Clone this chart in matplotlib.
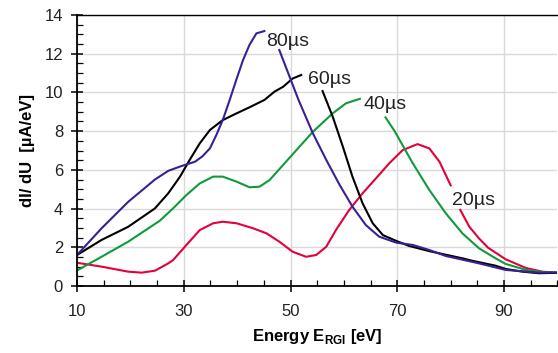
import matplotlib
matplotlib.use('Agg')
import matplotlib.pyplot as plt
import numpy as np
from matplotlib.ticker import MultipleLocator

nan = np.nan

# energy [eV] and dI/dU [uA/eV], nan = gap behind the label
e20 = [10, 14.6, 19.6, 22.1, 24.6, 27.1, 28.0, 30.5, 33.0, 35.5, 37.3, 39.9, 43.0, 45.5, 47.9, 50.4,
       52.9, 54.8, 56.7, 58.5, 61.0, 63.5, 66.0, 68.5, 71.0, 73.8, 76.0, 77.9, 80.0, nan,
       81.8, 83.5, 85.3, 87.0, 90.3, 94.1, 97.2, 100]
v20 = [1.2, 1.0, 0.74, 0.69, 0.79, 1.17, 1.34, 2.12, 2.89, 3.24, 3.32, 3.24, 2.98, 2.72, 2.29, 1.77,
       1.51, 1.6, 2.03, 2.89, 3.93, 4.79, 5.56, 6.34, 7.02, 7.33, 7.11, 6.42, 5.2, nan,
       3.93, 3.06, 2.46, 1.98, 1.38, 0.93, 0.74, 0.68]

e40 = [10, 14.6, 19.6, 25.5, 28.0, 30.5, 33.0, 35.5, 37.3, 39.9, 42.3, 44.2, 46.1, 48.6, 51.1, 54.2,
       57.9, 60.4, 63.0, nan, 67.8, 69.5, 72.9, 76.0, 79.1, 82.2, 85.3, 88.4, 90.3, 94.1, 97.2, 100]
v40 = [0.8, 1.51, 2.29, 3.37, 4.01, 4.7, 5.3, 5.65, 5.65, 5.39, 5.1, 5.13, 5.48, 6.25, 7.02, 7.97,
       8.92, 9.44, 9.67, nan, 8.71, 8.0, 6.34, 4.96, 3.75, 2.72, 1.95, 1.43, 1.14, 0.83, 0.72, 0.68]

e60 = [10, 14.6, 19.6, 24.6, 27.1, 29.3, 31.1, 33.0, 34.9, 37.3, 39.9, 42.3, 45.1, 47.0, 48.6, 50.4,
       52.0, nan, 56.0, 57.9, 59.8, 61.6, 63.5, 65.4, 67.3, 69.8, 72.2, 76.0, 82.2, 84.1, 88.4,
       90.3, 93.5, 96.5, 100]
v60 = [1.6, 2.38, 3.06, 4.01, 4.79, 5.65, 6.51, 7.37, 8.06, 8.57, 8.92, 9.23, 9.61, 10.04, 10.29, 10.72,
       10.9, nan, 10.07, 8.75, 7.2, 5.65, 4.27, 3.24, 2.63, 2.33, 2.07, 1.8, 1.43, 1.3, 1.05,
       0.88, 0.74, 0.66, 0.68]

e80 = [10, 14.6, 19.6, 24.6, 27.1, 29.6, 32.1, 33.5, 34.9, 36.1, 37.3, 38.6, 39.9, 41.1, 42.3, 43.6,
       45.1, nan, 47.9, 51.5, 54.2, 56.7, 59.2, 61.6, 64.1, 66.6, 69.8, 72.9, 76.0, 79.1, 85.3,
       90.3, 96.5, 100]
v80 = [1.6, 2.98, 4.35, 5.5, 5.95, 6.2, 6.42, 6.7, 7.11, 7.8, 8.57, 9.61, 10.7, 11.67, 12.45, 13.05,
       13.17, nan, 12.19, 9.61, 7.88, 6.51, 5.22, 4.1, 3.15, 2.55, 2.24, 2.12, 1.86, 1.55, 1.17,
       0.83, 0.69, 0.7]

series = [(e20, v20, '#e4003a', '20\u00b5s', (80.2, 4.41)),
          (e40, v40, '#0f9a3c', '40\u00b5s', (63.6, 9.4)),
          (e60, v60, 'black', '60\u00b5s', (53.2, 10.69)),
          (e80, v80, '#3b1f96', '80\u00b5s', (45.5, 12.65))]

xticks = [10, 30, 50, 70, 90]
yticks = [0, 2, 4, 6, 8, 10, 12, 14]

plt.rcParams['font.family'] = ['Liberation Sans', 'DejaVu Sans']
plt.rcParams['mathtext.fontset'] = 'custom'
plt.rcParams['mathtext.rm'] = 'Liberation Sans'
plt.rcParams['mathtext.bf'] = 'Liberation Sans:bold'

fig = plt.figure(figsize=(5.58, 3.53), dpi=100)
ax = fig.add_axes([77/558, 1-286/353, 1-77/558-0.001, (286-15)/353])

for e, v, c, lab, pos in series:
    ax.plot(e, v, color=c, lw=1.5)
    ax.text(pos[0], pos[1], lab, fontsize=14, color='#222222', ha='left', va='center')

ax.set_xlim(10, 100)
ax.set_ylim(0, 14)
ax.set_xticks(xticks)
ax.set_yticks(yticks)
ax.xaxis.set_minor_locator(MultipleLocator(5))
ax.yaxis.set_minor_locator(MultipleLocator(0.5))
ax.tick_params(which='major', direction='inout', length=8, width=1.1, labelsize=12,
               labelcolor='#222222', pad=6)
ax.tick_params(axis='x', which='major', pad=9)
ax.tick_params(which='minor', direction='in', length=4, width=0.9)
ax.grid(True, which='major', color='#d9d9d9', lw=1)
ax.set_axisbelow(True)
ax.spines['right'].set_visible(False)
for s in ['left', 'bottom']:
    ax.spines[s].set_linewidth(1.3)
ax.spines['top'].set_linewidth(1.0)

ax.set_xlabel(r'Energy E$_{\mathbf{RGI}}$ [eV]', fontsize=12, fontweight='bold', labelpad=6)
ax.set_ylabel('dI/ dU  [\u00b5A/eV]', fontsize=12, fontweight='bold', labelpad=7)

fig.savefig('out.png', dpi=100)
